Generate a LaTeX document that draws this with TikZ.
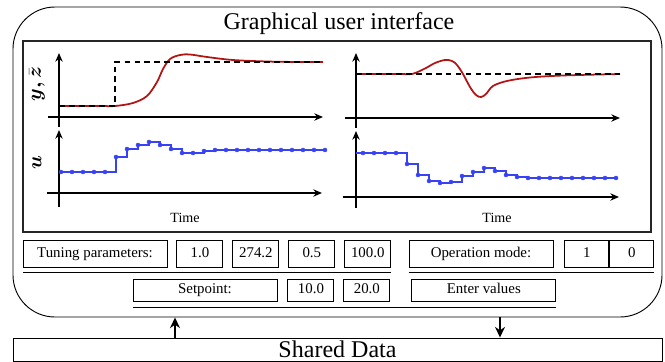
\documentclass[tikz,border=0pt]{standalone}
\usepackage{amsmath}
\usepackage{bm}
\usepackage{fontspec}
\setmainfont{Liberation Serif}
\usetikzlibrary{arrows.meta, positioning}
\definecolor{cRed}{RGB}{178,20,20}
\definecolor{cBlue}{RGB}{55,65,245}
\tikzset{
	guibox/.style   ={rectangle, rounded corners=1.26cm, draw=black, line width=0.8pt, minimum width=19.47cm, minimum height=9.3cm},
	panel/.style    ={rectangle, draw=black!85, line width=1pt, minimum width=18.84cm, minimum height=5.73cm},
	field/.style    ={rectangle, draw=black, line width=0.8pt, inner sep=0pt, minimum height=0.81cm, text height=0.66em, text depth=0.02em, font=\fontsize{12.7}{15}\selectfont},
	namefield/.style={field, minimum width=4.32cm},
	valfield/.style ={field, minimum width=1.38cm},
	shared/.style   ={rectangle, draw=black, line width=0.8pt, inner sep=0pt, minimum width=19.47cm, minimum height=0.69cm, font=\fontsize{20.5}{22}\selectfont},
	titletext/.style={inner sep=0pt, font=\fontsize{20.5}{22}\selectfont},
	timetext/.style ={inner sep=0pt, font=\fontsize{12}{14}\selectfont},
	axlabel/.style  ={inner sep=0pt, rotate=90, font=\fontsize{18}{20}\selectfont},
	rule/.style     ={line width=0.8pt},
	axisarrow/.style={-{Stealth[length=2.6mm, width=2.2mm]}, line width=1.1pt},
	flowarrow/.style={-{Stealth[length=3.2mm, width=3mm]}, line width=1.2pt},
	yline/.style    ={cRed, line width=1.5pt},
	refline/.style  ={black, line width=1.2pt, dash pattern=on 5pt off 3.5pt},
	uline/.style    ={cBlue, line width=1.9pt, mark=*, mark size=1.7pt, mark options={fill=cBlue, line width=0.4pt}},
}
\begin{document}
\begin{tikzpicture}[x=0.03cm, y=-0.03cm, node distance=0.27cm]
	\useasboundingbox (0,0) rectangle (665,362);
	\node[guibox] (gui) at (337.5,162) {};
	\node[titletext] (title) at (339,24) {Graphical user interface};
	\node[panel] (plots) at (337,136.5) {};
	% left: setpoint change
	\draw[axisarrow] (48,117) -- (323,117);
	\draw[axisarrow] (59,127) -- (59,53);
	\draw[yline] plot[smooth, tension=0.55] coordinates {(59,106) (100,106) (115,106) (133,103) (147,96) (157,82) (163,69) (170,59) (180,55) (190,54.5) (207,57) (233,60) (267,61.5) (300,62) (323,62)};
	\draw[refline] (59,106) -- (115,106) -- (115,62) -- (323,62);
	\draw[axisarrow] (47,193) -- (322,193);
	\draw[axisarrow] (59,207) -- (59,130);
	\draw[uline] plot[const plot mark left] coordinates {(61,172) (72,172) (83,172) (94,172) (105,172) (116,157) (127,149) (138,145) (149,142) (160,145) (171,149) (182,153) (193,153) (204,151) (215,150) (226,150) (237,150) (248,150) (259,150) (270,150) (281,150) (292,150) (303,150) (314,150) (325,150)};
	\node[axlabel] (ylab) at (37,84) {$\boldsymbol{y,\bar{z}}$};
	\node[axlabel] (ulab) at (37,163) {$\boldsymbol{u}$};
	\node[timetext] (timeL) at (185,218) {Time};
	% right: disturbance
	\draw[axisarrow] (345,118) -- (620,118);
	\draw[axisarrow] (356,128) -- (356,53);
	\draw[yline] plot[smooth, tension=0.55] coordinates {(356,74) (400,74) (412,74) (425,68.5) (435,63) (445,60) (452,61) (457,65) (463,74) (470,87) (476,95) (481,97) (486,94) (493,86) (507,81) (530,77.5) (563,75.5) (620,74)};
	\draw[refline] (356,74) -- (620,74);
	\draw[axisarrow] (343,197) -- (619,197);
	\draw[axisarrow] (356,208) -- (356,131);
	\draw[uline, mark indices={2,...,25}] plot[const plot mark left] coordinates {(356,153) (363,153) (374,153) (385,153) (396,153) (407,164) (418,175) (429,181) (440,183) (451,182) (462,176) (473,172) (484,168) (495,171) (506,175) (517,177) (528,178) (539,178) (550,178) (561,178) (572,178) (583,178) (594,178) (605,178) (616,178)};
	\node[timetext] (timeR) at (497,218) {Time};
	% input fields
	\node[namefield] (tune) at (95,253.5) {Tuning parameters:};
	\node[valfield, right=of tune] (kp) {1.0};
	\node[valfield, right=of kp] (ti) {274.2};
	\node[valfield, right=of ti] (td) {0.5};
	\node[valfield, right=of td] (ts) {100.0};
	\node[namefield] (opmode) at (481,253.5) {Operation mode:};
	\node[valfield, minimum width=1.32cm, right=0.33cm of opmode] (modeA) {1};
	\node[valfield, minimum width=1.32cm, right=0pt of modeA] (modeB) {0};
	\draw[rule] ([yshift=-0.15cm]tune.south west) -- ([yshift=-0.15cm]ts.south east);
	\draw[rule] ([yshift=-0.15cm]opmode.south west) -- ([yshift=-0.15cm]modeB.south east);
	\node[namefield, minimum height=0.66cm] (setp) at (205,290) {Setpoint:};
	\node[valfield, minimum height=0.66cm, right=0.3cm of setp] (spA) {10.0};
	\node[valfield, minimum height=0.66cm, right=of spA] (spB) {20.0};
	\node[namefield, minimum height=0.66cm, right=0.63cm of spB] (enter) {Enter values};
	\draw[rule] ([yshift=-0.18cm]setp.south west) -- ([yshift=-0.18cm]enter.south east);
	% shared data
	\node[shared] (data) at (337.5,349.5) {Shared Data};
	\coordinate (up) at (175,330);
	\coordinate (dn) at (500,330);
	\draw[flowarrow] (data.north -| up) -- (gui.south -| up);
	\draw[flowarrow] (gui.south -| dn) -- (data.north -| dn);
\end{tikzpicture}
\end{document}
